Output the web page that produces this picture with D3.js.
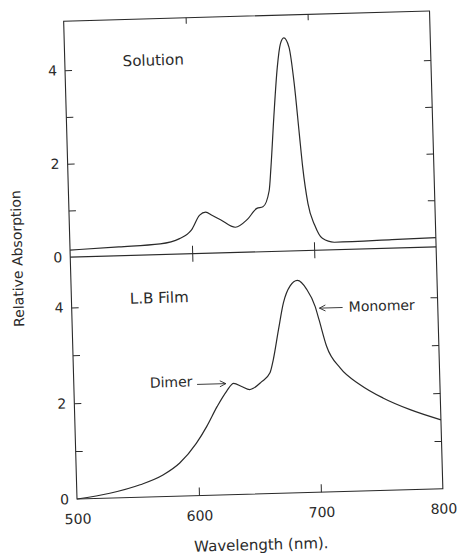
<!DOCTYPE html>
<html>
<head>
<meta charset="utf-8">
<script src="https://cdn.jsdelivr.net/npm/d3@7"></script>
<style>
  body { margin: 0; background: #fff; }
  text { font-family: "DejaVu Sans", sans-serif; fill: #2a2a2a; }
</style>
</head>
<body>
<script>
// solution spectrum (top panel)
const solutionNm  = [500, 540, 574, 590, 600, 607, 612, 617, 624, 636, 646, 654, 659, 664.5, 666.5, 670, 674, 677, 680, 684, 687.5, 690.5, 692.5, 696, 701, 707, 717, 764, 800];
const solutionAbs = [0.15, 0.19, 0.23, 0.33, 0.51, 0.82, 0.88, 0.81, 0.71, 0.54, 0.70, 0.93, 0.96, 1.30, 1.80, 2.87, 3.94, 4.43, 4.56, 4.36, 3.57, 2.50, 1.79, 1.00, 0.54, 0.25, 0.16, 0.18, 0.20];

// LB film spectrum (bottom panel)
const filmNm  = [500, 527, 552, 571, 585, 599, 608, 617, 625, 631, 637.5, 644, 654, 661, 664, 669, 673.6, 679.5, 685.6, 693, 699.5, 702.4, 708, 718.6, 734.6, 753, 775, 800];
const filmAbs = [0.00, 0.10, 0.26, 0.45, 0.69, 1.09, 1.44, 1.85, 2.16, 2.32, 2.25, 2.18, 2.34, 2.52, 2.79, 3.42, 3.97, 4.32, 4.43, 4.24, 3.88, 3.60, 3.04, 2.58, 2.22, 1.93, 1.67, 1.44];

const xTickLabels = [500, 600, 700, 800];
const xInnerTicks = [600, 700];
const yTickLabels = [0, 2, 4];
const yInnerTicks = [1, 2, 3, 4];

const width = 458;
const height = 559;
const plotW = 366;
const topH = 236;
const botH = 242;
const originX = 77;   // bottom-left corner of the frame on the page
const originY = 499;
const tilt = -1.6;    // the scanned page is slightly rotated
const ink = '#2a2a2a';

const svg = d3.select('body').append('svg')
  .attr('width', width)
  .attr('height', height);

const g = svg.append('g')
  .attr('transform', `rotate(${tilt}, ${originX}, ${originY}) translate(${originX}, ${originY - topH - botH})`);

const x = d3.scaleLinear().domain([500, 800]).range([0, plotW]);
const yTop = d3.scaleLinear().domain([0, 5.05]).range([topH, 0]);
const yBot = d3.scaleLinear().domain([0, 5.05]).range([topH + botH, topH]);

function styleAxis(sel) {
  sel.select('.domain').remove();
  sel.attr('font-family', null).attr('font-size', 14).style('color', ink);
  sel.selectAll('line').attr('stroke-width', 1);
}

// frame and divider
g.append('rect')
  .attr('width', plotW)
  .attr('height', topH + botH)
  .attr('fill', 'none')
  .attr('stroke', ink)
  .attr('stroke-width', 1.1);

g.append('line')
  .attr('x1', 0).attr('x2', plotW)
  .attr('y1', topH).attr('y2', topH)
  .attr('stroke', ink)
  .attr('stroke-width', 1.1);

// y ticks, both panels, both sides
[yTop, yBot].forEach((y) => {
  g.append('g')
    .call(d3.axisLeft(y).tickValues(yInnerTicks).tickSize(-7).tickFormat(''))
    .call(styleAxis);
  g.append('g')
    .attr('transform', `translate(${plotW},0)`)
    .call(d3.axisRight(y).tickValues(yInnerTicks).tickSize(-7).tickFormat(''))
    .call(styleAxis);
  g.append('g')
    .call(d3.axisLeft(y).tickValues(yTickLabels).tickSize(0).tickPadding(8).tickFormat(d3.format('d')))
    .call(styleAxis);
});

// x ticks: top border, divider (crossing) and bottom
g.append('g')
  .call(d3.axisTop(x).tickValues(xInnerTicks).tickSize(-6).tickFormat(''))
  .call(styleAxis);
g.append('g')
  .attr('transform', `translate(0,${topH})`)
  .call(d3.axisBottom(x).tickValues(xInnerTicks).tickSize(8).tickFormat(''))
  .call(styleAxis);
g.append('g')
  .attr('transform', `translate(0,${topH})`)
  .call(d3.axisTop(x).tickValues(xInnerTicks).tickSize(8).tickFormat(''))
  .call(styleAxis);
g.append('g')
  .attr('transform', `translate(0,${topH + botH})`)
  .call(d3.axisBottom(x).tickValues(xInnerTicks).tickSize(-8).tickFormat(''))
  .call(styleAxis);
g.append('g')
  .attr('transform', `translate(0,${topH + botH})`)
  .call(d3.axisBottom(x).tickValues(xTickLabels).tickSize(0).tickPadding(15).tickFormat(d3.format('d')))
  .call(styleAxis);

// spectra
const topLine = d3.line()
  .x((d, i) => x(solutionNm[i]))
  .y((d) => yTop(d))
  .curve(d3.curveMonotoneX);

const botLine = d3.line()
  .x((d, i) => x(filmNm[i]))
  .y((d) => yBot(d))
  .curve(d3.curveMonotoneX);

g.append('path')
  .attr('d', topLine(solutionAbs))
  .attr('fill', 'none')
  .attr('stroke', ink)
  .attr('stroke-width', 1.2);

g.append('path')
  .attr('d', botLine(filmAbs))
  .attr('fill', 'none')
  .attr('stroke', ink)
  .attr('stroke-width', 1.2);

// panel labels and annotations (placed in data units)
const labels = [
  {text: 'Solution', nm: 547.5, v: 4.05, y: yTop, size: 15},
  {text: 'L.B Film', nm: 548, v: 4.04, y: yBot, size: 15},
  {text: 'Monomer', nm: 727, v: 3.75, y: yBot, size: 14},
  {text: 'Dimer', nm: 562.3, v: 2.28, y: yBot, size: 14}
];

labels.forEach((l) => {
  g.append('text')
    .text(l.text)
    .attr('x', x(l.nm))
    .attr('y', l.y(l.v))
    .attr('font-size', l.size);
});

const arrows = [
  {fromNm: 601, toNm: 624.6, v: 2.32},
  {fromNm: 722, toNm: 703, v: 3.84}
];

arrows.forEach((a) => {
  const x1 = x(a.fromNm);
  const x2 = x(a.toNm);
  const yy = yBot(a.v);
  const dir = x2 > x1 ? 1 : -1;
  g.append('line')
    .attr('x1', x1).attr('x2', x2)
    .attr('y1', yy).attr('y2', yy)
    .attr('stroke', ink)
    .attr('stroke-width', 0.9);
  g.append('path')
    .attr('d', `M${x2 - dir * 6},${yy - 3} L${x2},${yy} L${x2 - dir * 6},${yy + 3}`)
    .attr('fill', 'none')
    .attr('stroke', ink)
    .attr('stroke-width', 0.9);
});

// axis titles
g.append('text')
  .text('Relative Absorption')
  .attr('transform', `translate(-48,${topH}) rotate(-90)`)
  .attr('text-anchor', 'middle')
  .attr('font-size', 14);

g.append('text')
  .text('Wavelength (nm).')
  .attr('x', plotW / 2)
  .attr('y', topH + botH + 56)
  .attr('text-anchor', 'middle')
  .attr('font-size', 15);
</script>
</body>
</html>
